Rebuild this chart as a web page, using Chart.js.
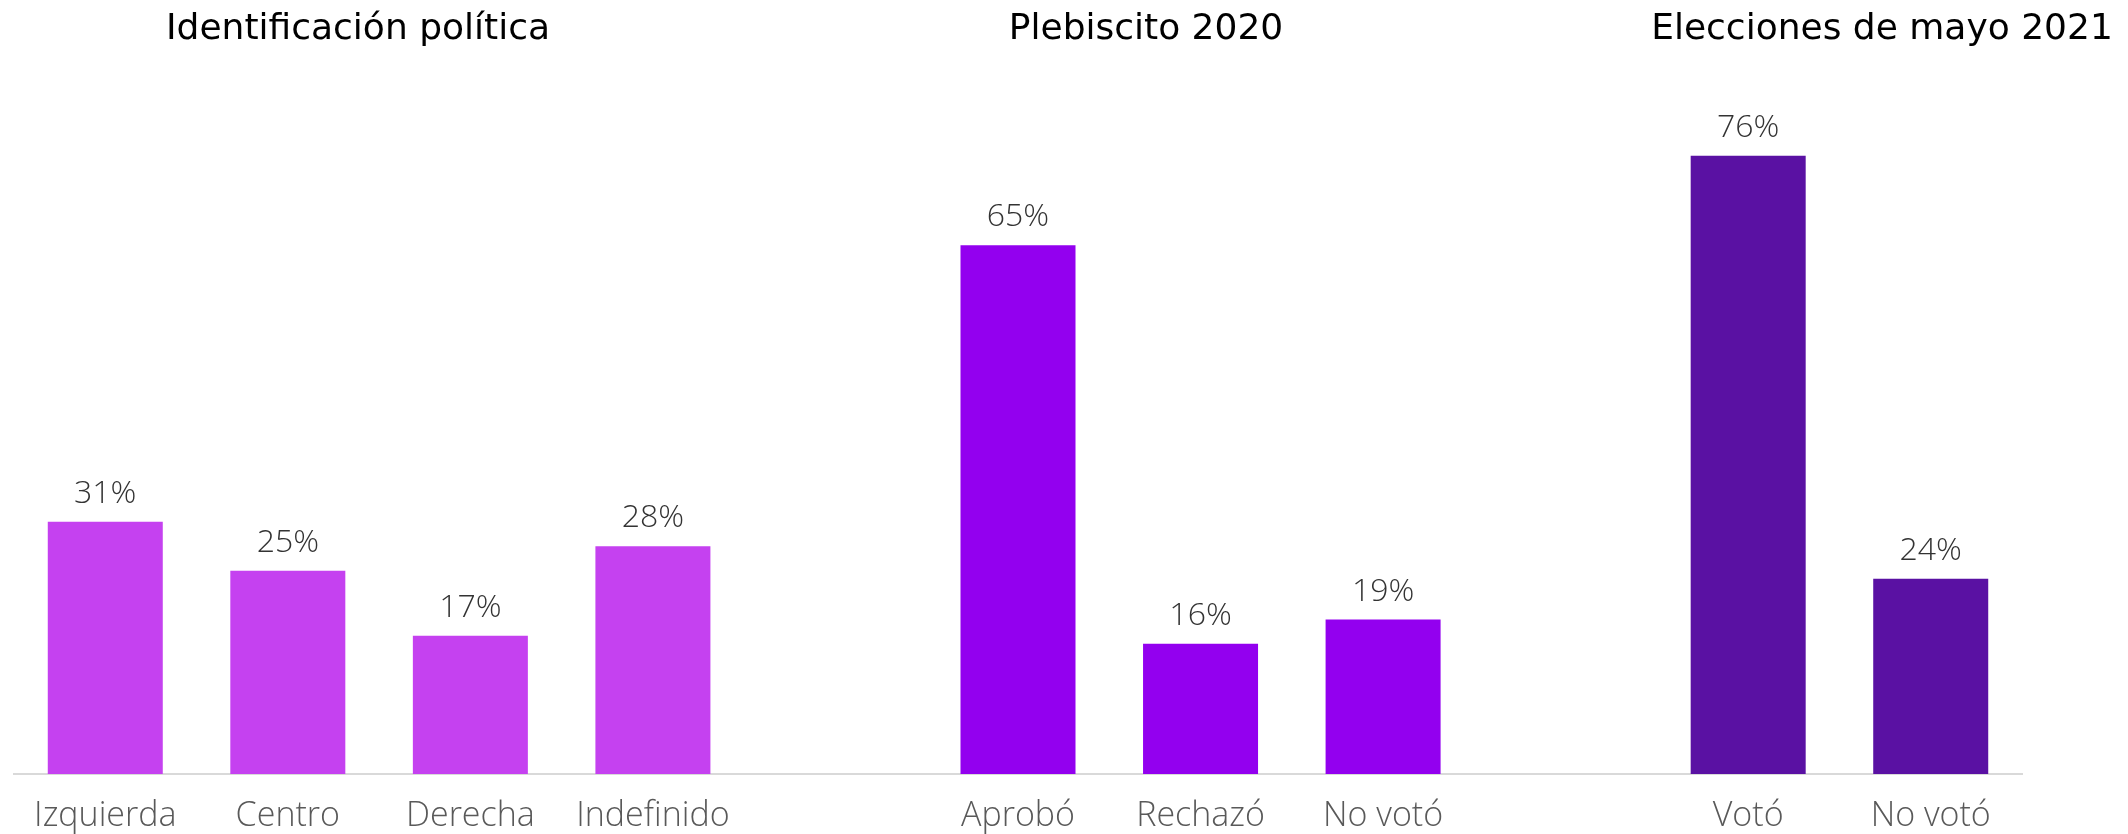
<!DOCTYPE html>
<html>
<head>
<meta charset="utf-8">
<script src="https://cdn.jsdelivr.net/npm/chart.js@4"></script>
<style>
  html, body { margin: 0; padding: 0; background: #fff; }
  #wrap { width: 2128px; height: 834px; }
</style>
</head>
<body>
<div id="wrap"><canvas id="chart" width="2128" height="834"></canvas></div>
<script>
// categories (empty strings are the gaps between groups)
const categories = ['Izquierda', 'Centro', 'Derecha', 'Indefinido', '', 'Aprobó', 'Rechazó', 'No votó', '', 'Votó', 'No votó'];
const values = [31, 25, 17, 28, null, 65, 16, 19, null, 76, 24];
const groupOf = [0, 0, 0, 0, null, 1, 1, 1, null, 2, 2];
const groupTitles = ['Identificación política', 'Plebiscito 2020', 'Elecciones de mayo 2021'];

const groupColors = ['#C541F0', '#9300EF', '#5A11A3'];
const titleX = [358, 1146, 1882]; // title centres in px

const barColors = groupOf.map(g => g === null ? 'transparent' : groupColors[g]);

// value labels above the bars
const valueLabels = {
    id: 'valueLabels',
    afterDatasetsDraw(chart) {
        const ctx = chart.ctx;
        const meta = chart.getDatasetMeta(0);
        ctx.save();
        ctx.font = '300 32px "Open Sans", sans-serif';
        ctx.fillStyle = '#333333';
        ctx.textAlign = 'center';
        ctx.textBaseline = 'middle';
        meta.data.forEach((bar, i) => {
            if (values[i] === null) return;
            ctx.fillText(values[i] + '%', bar.x, bar.y - 28);
        });
        ctx.restore();
    }
};

// group titles at the top
const groupTitlePlugin = {
    id: 'groupTitles',
    afterDraw(chart) {
        const ctx = chart.ctx;
        ctx.save();
        ctx.font = '400 36px "DejaVu Sans", sans-serif';
        ctx.fillStyle = '#000';
        ctx.textAlign = 'center';
        ctx.textBaseline = 'middle';
        groupTitles.forEach((t, i) => ctx.fillText(t, titleX[i], 30));
        ctx.restore();
    }
};

new Chart(document.getElementById('chart'), {
    type: 'bar',
    data: {
        labels: categories,
        datasets: [{
            data: values,
            backgroundColor: barColors,
            borderWidth: 0,
            categoryPercentage: 1,
            barPercentage: 0.63
        }]
    },
    options: {
        responsive: false,
        animation: false,
        layout: { padding: { left: 14, right: 106, top: 42, bottom: 0 } },
        plugins: {
            legend: { display: false },
            tooltip: { enabled: false }
        },
        scales: {
            x: {
                afterFit(scale) { scale.height = 60; },
                grid: { display: false, drawTicks: false },
                border: { color: '#D9D9D9', width: 2 },
                ticks: {
                    color: '#595959',
                    padding: 22,
                    maxRotation: 0,
                    autoSkip: false,
                    font: { family: '"Open Sans", sans-serif', size: 34, weight: 300 }
                }
            },
            y: {
                display: false,
                min: 0,
                max: 90
            }
        }
    },
    plugins: [valueLabels, groupTitlePlugin]
});
</script>
</body>
</html>
